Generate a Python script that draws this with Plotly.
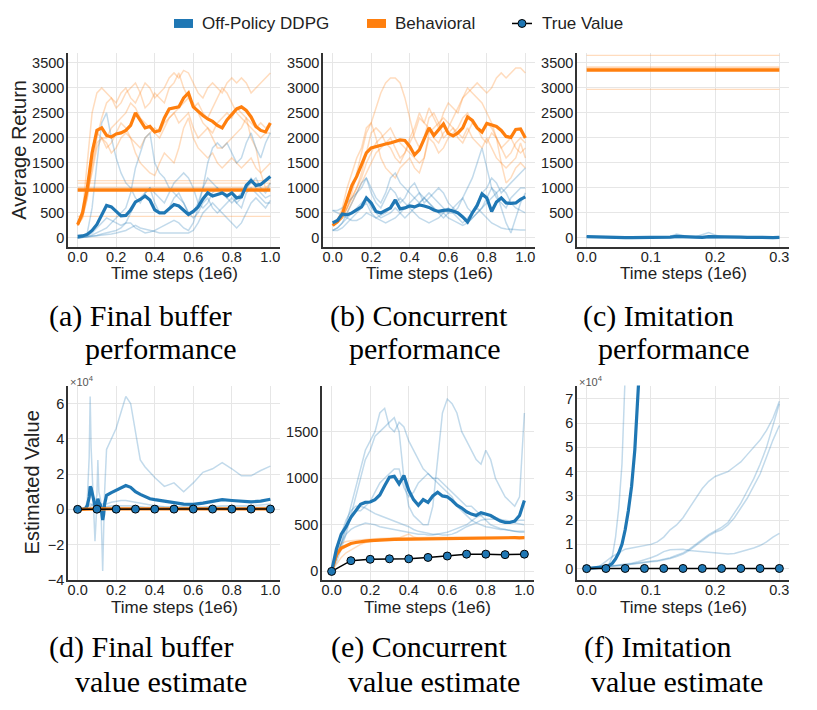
import plotly.graph_objects as go

# ---------------- data ----------------
steps = [0.0, 0.025, 0.05, 0.075, 0.1, 0.125, 0.15, 0.175, 0.2, 0.225, 0.25, 0.275, 0.3, 0.325,
         0.35, 0.375, 0.4, 0.425, 0.45, 0.475, 0.5, 0.525, 0.55, 0.575, 0.6, 0.625, 0.65, 0.675,
         0.7, 0.725, 0.75, 0.775, 0.8, 0.825, 0.85, 0.875, 0.9, 0.925, 0.95, 0.975, 1.0]
steps_short = [0.0, 0.01, 0.02, 0.03, 0.04, 0.05, 0.06, 0.07, 0.08, 0.09, 0.1, 0.11, 0.12, 0.13,
               0.14, 0.15, 0.16, 0.17, 0.18, 0.19, 0.2, 0.21, 0.22, 0.23, 0.24, 0.25, 0.26, 0.27,
               0.28, 0.29, 0.3]
eval_steps = [0.0, 0.1, 0.2, 0.3, 0.4, 0.5, 0.6, 0.7, 0.8, 0.9, 1.0]
eval_steps_short = [0.0, 0.03, 0.06, 0.09, 0.12, 0.15, 0.18, 0.21, 0.24, 0.27, 0.3]

# (a) final buffer performance
a_ddpg_mean = [30, 40, 70, 150, 270, 450, 650, 620, 520, 440, 450, 560, 720, 770, 840, 760, 560, 500,
               500, 580, 670, 640, 550, 470, 530, 620, 780, 900, 840, 870, 900, 840, 900, 800, 820,
               1050, 1150, 1050, 1070, 1150, 1230]
a_ddpg_seeds = [
    [0, 20, 100, 600, 1500, 2300, 2500, 2000, 1600, 1300, 1100, 1000, 800, 700, 900, 1000, 700, 500,
     500, 600, 800, 900, 700, 500, 500, 700, 1000, 1200, 1100, 1000, 900, 800, 900, 700, 800, 1000,
     1200, 1000, 900, 800, 850],
    [0, 10, 30, 60, 100, 150, 200, 300, 400, 500, 600, 900, 1400, 1700, 2000, 2100, 1500, 1300, 1200,
     1000, 900, 800, 700, 500, 400, 500, 700, 800, 600, 500, 600, 700, 800, 700, 600, 900, 1000, 900,
     800, 700, 700],
    [0, 10, 20, 30, 50, 80, 100, 120, 150, 200, 300, 300, 200, 150, 100, 120, 150, 200, 250, 300, 350,
     300, 200, 150, 300, 600, 1000, 1500, 1800, 1900, 1800, 1900, 1700, 1500, 1600, 1900, 2100, 1800,
     1600, 1900, 2100],
    [0, 20, 50, 100, 200, 300, 400, 350, 300, 250, 300, 500, 700, 800, 900, 1000, 900, 800, 700, 900,
     1100, 1200, 1300, 1200, 1000, 700, 600, 700, 900, 1000, 900, 800, 700, 800, 900, 1000, 1100, 1200,
     1000, 900, 1100],
    [0, 10, 20, 30, 40, 50, 60, 80, 100, 120, 150, 200, 250, 200, 180, 150, 130, 100, 100, 100, 100,
     100, 100, 100, 150, 300, 500, 600, 700, 600, 500, 400, 300, 200, 300, 500, 700, 800, 700, 600, 750],
]
a_behav_mean = [267, 500, 1000, 1700, 2150, 2200, 2050, 2020, 2080, 2100, 2150, 2250, 2500, 2350, 2200,
                2230, 2120, 2150, 2400, 2580, 2600, 2620, 2800, 2900, 2620, 2530, 2450, 2380, 2330, 2250,
                2200, 2360, 2480, 2580, 2620, 2550, 2420, 2230, 2150, 2120, 2300]
a_behav_seeds = [
    [250, 500, 1500, 2500, 2900, 3000, 2900, 2800, 2700, 2900, 3000, 2800, 2700, 2900, 3100, 3000, 2800,
     2900, 3000, 3200, 3300, 3200, 3350, 3300, 3100, 2900, 2800, 3000, 3100, 3000, 2900, 3100, 3200,
     3100, 3200, 3100, 2900, 3000, 3100, 3200, 3300],
    [250, 400, 800, 1500, 2000, 2400, 2700, 2800, 2600, 2700, 2900, 3000, 3100, 2900, 2600, 2700, 2900,
     2800, 2700, 3000, 3100, 3300, 3000, 2800, 2600, 2700, 2500, 2400, 2600, 2800, 3000, 2900, 2700,
     2500, 2400, 2300, 2200, 2100, 2000, 2100, 2100],
    [250, 400, 800, 1400, 1900, 2000, 1800, 1900, 2100, 2300, 2200, 2000, 1700, 1500, 1400, 1300, 1250,
     1500, 1700, 1600, 1500, 1800, 2200, 2400, 2000, 1800, 1700, 1600, 1700, 1500, 1400, 1500, 1600,
     1500, 1400, 1500, 1600, 1400, 1300, 1400, 1500],
    [250, 500, 900, 1300, 1800, 2000, 1900, 1700, 1800, 2000, 2100, 2000, 1900, 1800, 2000, 2100, 2200,
     2100, 2300, 2400, 2500, 2300, 2400, 2500, 2200, 2000, 2100, 2200, 2100, 2300, 2400, 2500, 2400,
     2600, 2500, 2400, 2000, 1800, 1300, 1000, 1100],
    [250, 450, 1000, 1800, 2100, 2000, 2000, 2200, 2300, 2400, 2500, 2700, 2600, 2400, 2300, 2200, 2100,
     2000, 2200, 2400, 2500, 2600, 2700, 2800, 2700, 2500, 2300, 2200, 2000, 1800, 1800, 1900, 2000,
     2100, 2200, 2400, 2300, 2200, 2300, 2200, 2300],
]
a_buffer_level_mean = 960
a_buffer_level_seeds = [1145, 1095, 1015, 430]

# (b) concurrent performance
b_ddpg_mean = [300, 350, 480, 460, 500, 560, 620, 800, 700, 530, 500, 550, 600, 760, 580, 600, 640, 620,
               660, 640, 610, 560, 530, 550, 560, 540, 500, 420, 320, 500, 650, 880, 800, 530, 720, 800,
               700, 690, 700, 770, 820]
b_ddpg_seeds = [
    [150, 200, 300, 500, 700, 900, 1100, 1200, 1000, 800, 700, 900, 1200, 1300, 1100, 1000, 900, 800, 700,
     800, 900, 800, 700, 600, 500, 500, 600, 800, 1000, 1200, 1500, 1800, 1400, 1000, 800, 700, 600, 800,
     900, 1000, 1000],
    [550, 550, 600, 700, 800, 900, 1000, 1200, 900, 700, 600, 800, 1000, 900, 700, 800, 1000, 1100, 900,
     700, 800, 900, 1000, 900, 700, 600, 700, 800, 600, 500, 700, 900, 1000, 1200, 1100, 900, 1000, 1100,
     1200, 1300, 1400],
    [150, 150, 200, 300, 400, 500, 600, 700, 500, 400, 450, 500, 600, 700, 800, 700, 600, 500, 400, 350,
     300, 350, 400, 500, 600, 500, 400, 300, 400, 500, 600, 500, 400, 300, 250, 200, 180, 170, 160, 160, 160],
    [550, 500, 450, 400, 350, 350, 400, 500, 450, 400, 350, 300, 350, 400, 500, 600, 700, 800, 900, 800,
     700, 600, 500, 500, 400, 350, 300, 250, 300, 400, 500, 600, 700, 800, 900, 1000, 900, 700, 600, 550, 500],
    [150, 200, 300, 400, 500, 600, 700, 800, 600, 500, 400, 450, 500, 600, 500, 400, 500, 600, 700, 800,
     700, 600, 500, 400, 500, 600, 500, 400, 300, 400, 500, 600, 800, 1000, 900, 600, 300, 100, 400, 700, 900],
]
b_behav_mean = [250, 330, 480, 750, 1050, 1230, 1450, 1700, 1800, 1830, 1850, 1880, 1900, 1930, 1960,
                1950, 1830, 1660, 1760, 1980, 2200, 2050, 2170, 2280, 2090, 2040, 2100, 2200, 2420, 2350,
                2200, 2120, 2290, 2260, 2230, 2150, 2030, 2010, 2170, 2180, 2000]
b_behav_seeds = [
    [250, 300, 400, 600, 900, 1300, 1700, 2100, 2300, 2600, 2900, 3100, 3200, 3200, 3100, 2800, 2400, 2000,
     1800, 2000, 2400, 2500, 2300, 2000, 2100, 2200, 2000, 1900, 2100, 2300, 2200, 2000, 1900, 2100, 2000,
     1800, 1600, 1700, 1900, 2000, 1900],
    [250, 300, 400, 500, 700, 900, 1100, 1300, 1500, 1700, 1800, 1900, 2000, 1800, 1600, 1700, 1900, 2100,
     2400, 2300, 2200, 2000, 1900, 2100, 2200, 2400, 2600, 2800, 2900, 3000, 3100, 3000, 2900, 3000, 3200,
     3300, 3200, 3300, 3400, 3400, 3300],
    [250, 300, 400, 600, 800, 1000, 1300, 1700, 2100, 2200, 2100, 1900, 1800, 1600, 1500, 1700, 2000, 2200,
     2500, 2300, 2600, 2400, 2200, 2500, 2700, 2600, 2500, 2800, 3000, 2900, 2800, 2700, 2500, 2300, 2000,
     1500, 1100, 1200, 1400, 1500, 1400],
    [250, 350, 600, 1000, 1300, 1600, 1800, 2200, 2300, 2000, 1600, 1400, 1300, 1200, 1400, 1500, 1600,
     1400, 1300, 1600, 2000, 1900, 1700, 1800, 2000, 2100, 2200, 2400, 2500, 2300, 2200, 2100, 2300, 2200,
     2000, 1800, 1900, 2000, 1800, 1700, 1800],
    [250, 300, 400, 600, 800, 1000, 1200, 1500, 1700, 1900, 2000, 2100, 2200, 2000, 1900, 1800, 1700, 1600,
     1500, 1600, 2100, 2200, 2300, 2400, 2300, 2200, 2100, 2000, 2200, 2000, 1900, 1800, 2000, 1800, 1600,
     1500, 1400, 1500, 1600, 1900, 1600],
]

# (c) imitation performance
c_ddpg_mean = [25, 20, 12, 8, 6, 5, 5, 5, 5, 5, 6, 8, 10, 15, 30, 25, 12, 6, 10, 25, 20, 15, 12, 12, 15,
               12, 8, 6, 6, 8, 10]
c_ddpg_seeds = [
    [30, 25, 15, 10, 8, 6, 5, 5, 5, 5, 5, 8, 12, 30, 80, 50, 15, 5, 8, 10, 10, 10, 10, 10, 12, 10, 8, 6,
     6, 8, 10],
    [20, 15, 10, 8, 6, 5, 5, 5, 5, 5, 6, 8, 10, 10, 10, 10, 12, 25, 70, 110, 60, 20, 12, 12, 15, 12, 8, 6,
     6, 8, 10],
    [25, 20, 12, 8, 5, 5, 5, 5, 5, 5, 6, 8, 10, 10, 15, 12, 10, 6, 10, 20, 20, 15, 12, 12, 15, 12, 8, 6,
     6, 8, 10],
]
c_expert_level_mean = 3360
c_expert_level_seeds = [3650, 3420, 3400, 2970]

# (d) final buffer value estimate (x 1e4)
d_steps = [0.0, 0.02, 0.04, 0.05, 0.06, 0.065, 0.07, 0.08, 0.09, 0.1, 0.105, 0.11, 0.12, 0.13, 0.135,
           0.14, 0.15, 0.175, 0.2, 0.225, 0.25, 0.275, 0.3, 0.325, 0.35, 0.375, 0.4, 0.45, 0.5, 0.55,
           0.6, 0.65, 0.7, 0.75, 0.8, 0.85, 0.9, 0.95, 1.0]
d_ddpg_mean = [0, 0, 0.05, 0.2, 0.7, 1.3, 1.2, 0.6, 0.2, 0.3, 0.6, 0.4, 0.2, -0.6, -0.3, 0.3, 0.8, 0.95,
               1.1, 1.25, 1.35, 1.25, 1.0, 0.85, 0.7, 0.6, 0.55, 0.45, 0.38, 0.3, 0.28, 0.35, 0.47, 0.55,
               0.5, 0.45, 0.42, 0.47, 0.57]
d_ddpg_seeds = [
    [0, 0, 0.1, 0.5, 3.0, 6.4, 3.5, 1.0, -1.8, 0.3, 0.2, 0.2, 0.1, 0.1, 0.1, 0.1, 0.1, 0.1, 0.1, 0.1,
     0.1, 0.1, 0.1, 0.1, 0.1, 0.1, 0.1, 0.1, 0.1, 0.1, 0.1, 0.1, 0.1, 0.1, 0.1, 0.1, 0.1, 0.1, 0.1],
    [0, 0, 0, 0, 0, 0, 0, 0.1, 0.3, 0.8, 2.8, 1.0, 0.5, -3.5, -1.0, 1.0, 3.4, 4.0, 4.6, 5.5, 6.4, 6.0,
     4.4, 2.8, 2.4, 2.1, 1.8, 1.3, 1.5, 1.0, 1.5, 2.1, 2.3, 2.65, 2.3, 1.9, 1.9, 2.2, 2.45],
    [0, 0, 0, 0, 0, 0.1, 0.2, 0.3, 0.2, 0.1, 0.1, 0.2, 0.3, 0.3, 0.3, 0.3, 0.3, 0.4, 0.45, 0.5, 0.5,
     0.45, 0.4, 0.35, 0.3, 0.25, 0.2, 0.15, 0.12, 0.1, 0.1, 0.1, 0.15, 0.2, 0.2, 0.2, 0.2, 0.25, 0.3],
    [0, 0, 0.05, 0.1, 0.2, 0.3, 0.3, 0.2, 0.1, 0.1, 0.1, 0.1, 0.1, 0.1, 0.1, 0.1, 0.15, 0.2, 0.2, 0.2,
     0.2, 0.2, 0.15, 0.15, 0.1, 0.1, 0.1, 0.1, 0.1, 0.1, 0.1, 0.1, 0.1, 0.1, 0.1, 0.1, 0.1, 0.1, 0.1],
]
d_behav_mean = [0, 0.015, 0.02, 0.025, 0.028, 0.03, 0.03, 0.03, 0.03, 0.03, 0.03, 0.03, 0.03, 0.03,
                0.03, 0.03, 0.03, 0.03, 0.03, 0.03, 0.03, 0.03, 0.03, 0.03, 0.03, 0.03, 0.03, 0.03,
                0.03, 0.03, 0.03, 0.03, 0.03, 0.03, 0.03, 0.03, 0.03, 0.03, 0.03, 0.03, 0.03]
d_true_value = [0, 0.01, 0.012, 0.013, 0.013, 0.014, 0.015, 0.016, 0.016, 0.016, 0.016]

# (e) concurrent value estimate
e_ddpg_mean = [5, 240, 400, 480, 580, 650, 720, 740, 745, 770, 820, 920, 1010, 1020, 940, 1030, 870, 770,
               710, 770, 740, 810, 850, 810, 800, 760, 710, 680, 640, 615, 600, 630, 615, 600, 570, 540,
               525, 525, 540, 600, 760]
e_ddpg_seeds = [
    [0, 150, 300, 500, 700, 900, 1100, 1300, 1400, 1500, 1700, 1750, 1550, 1500, 1600, 1550, 1400, 1300,
     1200, 1100, 1050, 1000, 1000, 950, 900, 850, 800, 750, 700, 700, 650, 600, 550, 500, 480, 460, 450,
     440, 430, 420, 420],
    [0, 100, 250, 400, 600, 800, 1000, 1200, 1300, 1450, 1500, 1550, 1600, 1650, 1500, 1000, 700, 600, 550,
     500, 500, 700, 1200, 1700, 1850, 1800, 1700, 1500, 1400, 1300, 1200, 1150, 1300, 1200, 1000, 900, 800,
     750, 700, 800, 1700],
    [0, 150, 300, 450, 600, 650, 650, 700, 750, 850, 950, 1000, 1050, 1100, 1100, 900, 800, 850, 950, 1000,
     1050, 1000, 950, 900, 850, 800, 700, 650, 600, 550, 520, 500, 480, 470, 460, 450, 450, 440, 430, 430, 430],
    [0, 200, 400, 550, 650, 700, 700, 680, 650, 620, 600, 580, 560, 540, 520, 500, 480, 450, 430, 420, 410,
     400, 400, 390, 390, 400, 420, 450, 480, 500, 520, 550, 560, 560, 560, 550, 550, 540, 540, 550, 550],
    [0, 150, 300, 400, 450, 480, 500, 520, 510, 500, 480, 470, 460, 450, 440, 430, 420, 410, 400, 400, 390,
     390, 400, 410, 420, 440, 460, 480, 500, 540, 580, 600, 620, 600, 580, 560, 540, 530, 520, 510, 500],
]
e_behav_mean = [0, 180, 250, 280, 300, 310, 320, 325, 330, 335, 338, 340, 342, 344, 345, 346, 348, 350,
                350, 352, 352, 353, 354, 355, 356, 357, 358, 358, 360, 360, 360, 360, 360, 362, 362, 362,
                362, 362, 362, 360, 362]
e_behav_seeds = [
    [0, 80, 150, 200, 230, 260, 290, 310, 320, 330, 335, 340, 340, 345, 345, 350, 350, 350, 352, 352, 355,
     355, 355, 356, 356, 358, 358, 360, 360, 360, 360, 362, 362, 362, 362, 362, 362, 362, 362, 362, 362],
    [0, 220, 300, 320, 330, 335, 340, 345, 350, 350, 352, 355, 355, 356, 358, 360, 360, 362, 362, 364, 365,
     365, 366, 366, 367, 368, 368, 370, 370, 370, 370, 372, 372, 372, 372, 372, 372, 372, 372, 372, 372],
    [0, 150, 230, 270, 300, 310, 320, 330, 335, 340, 345, 350, 350, 355, 360, 380, 400, 370, 355, 355, 356,
     356, 357, 357, 358, 358, 358, 358, 360, 360, 360, 360, 360, 360, 360, 360, 360, 360, 360, 360, 360],
]
e_true_value = [0, 115, 130, 135, 135, 150, 165, 185, 185, 180, 185]

# (f) imitation value estimate (x 1e4)
f_mean_steps = [0.0, 0.01, 0.02, 0.03, 0.035, 0.04, 0.045, 0.05, 0.055, 0.06, 0.065, 0.07, 0.075, 0.08, 0.085]
f_ddpg_mean = [0.0, 0.02, 0.05, 0.08, 0.13, 0.22, 0.4, 0.65, 1.0, 1.6, 2.4, 3.4, 4.9, 7.0, 9.6]
f_fast_steps = [0.0, 0.01, 0.02, 0.03, 0.035, 0.04, 0.045, 0.05, 0.055, 0.06, 0.065]
f_fast_seed = [0.0, 0.02, 0.05, 0.1, 0.2, 0.5, 1.3, 2.5, 4.3, 8.0, 12.0]
f_ddpg_seeds = [
    [0, 0.05, 0.1, 0.3, 0.5, 0.65, 0.8, 0.85, 0.9, 0.95, 1.0, 1.1, 1.3, 1.6, 1.8, 2.1, 2.5, 2.9, 3.3, 3.6,
     3.8, 3.9, 4.0, 4.2, 4.4, 4.7, 5.0, 5.3, 5.7, 6.2, 6.9],
    [0, 0.02, 0.05, 0.08, 0.12, 0.15, 0.18, 0.22, 0.28, 0.35, 0.45, 0.55, 0.7, 0.78, 0.8, 0.8, 0.75, 0.72,
     0.7, 0.68, 0.66, 0.63, 0.6, 0.62, 0.7, 0.75, 0.85, 0.95, 1.1, 1.3, 1.45],
    [0, 0.02, 0.04, 0.07, 0.1, 0.13, 0.16, 0.2, 0.25, 0.28, 0.3, 0.33, 0.38, 0.45, 0.55, 0.65, 0.8, 1.0,
     1.2, 1.4, 1.55, 1.7, 1.9, 2.3, 2.7, 3.2, 3.7, 4.3, 5.0, 5.9, 6.8],
    [0, 0.02, 0.04, 0.06, 0.09, 0.12, 0.15, 0.18, 0.22, 0.25, 0.28, 0.3, 0.35, 0.42, 0.5, 0.6, 0.75, 0.95,
     1.15, 1.35, 1.5, 1.6, 1.8, 2.1, 2.5, 2.9, 3.4, 3.9, 4.6, 5.3, 5.9],
]
f_true_value = [0, 0.005, 0.006, 0.006, 0.006, 0.006, 0.006, 0.006, 0.006, 0.006, 0.006]

legend_labels = ["Off-Policy DDPG", "Behavioral", "True Value"]
captions = [
    ("(a) Final buffer", "performance"), ("(b) Concurrent", "performance"),
    ("(c) Imitation", "performance"), ("(d) Final buffer", "value estimate"),
    ("(e) Concurrent", "value estimate"), ("(f) Imitation", "value estimate"),
]

# ---------------- style ----------------
W, H = 817, 710
VSCALE = 0.99          # measured vertical compression of the rendered page
BLUE = '#1f77b4'
ORANGE = '#ff7f0e'
BLUE_F = 'rgba(31,119,180,0.27)'
ORANGE_F = 'rgba(255,127,14,0.27)'
SANS = 'Liberation Sans'
SERIF = 'Liberation Serif'
TXT = '#222222'


def px(x):
    return x / W


def py(y):
    return 1 - (y / VSCALE) / H


fig = go.Figure()


def add_line(xs, ys, ax, color, width):
    fig.add_trace(go.Scatter(x=xs, y=ys, mode='lines', line=dict(color=color, width=width),
                             xaxis='x' + ax, yaxis='y' + ax, showlegend=False, hoverinfo='skip'))


def add_level(value, xs, ax, color, width):
    fig.add_trace(go.Scatter(x=[xs[0], xs[-1]], y=[value, value], mode='lines',
                             line=dict(color=color, width=width),
                             xaxis='x' + ax, yaxis='y' + ax, showlegend=False, hoverinfo='skip'))


def add_true(xs, ys, ax):
    fig.add_trace(go.Scatter(x=xs, y=ys, mode='lines+markers', line=dict(color='black', width=1.5),
                             marker=dict(size=8, color=BLUE, line=dict(color='black', width=1)),
                             xaxis='x' + ax, yaxis='y' + ax, showlegend=False, hoverinfo='skip'))


# (a)
for s in a_behav_seeds:
    add_line(steps, s, '', ORANGE_F, 1.5)
for v in a_buffer_level_seeds:
    add_level(v, steps, '', ORANGE_F, 1.3)
for s in a_ddpg_seeds:
    add_line(steps, s, '', BLUE_F, 1.5)
add_level(a_buffer_level_mean, steps, '', ORANGE, 3.5)
add_line(steps, a_behav_mean, '', ORANGE, 3.2)
add_line(steps, a_ddpg_mean, '', BLUE, 3.2)

# (b)
for s in b_behav_seeds:
    add_line(steps, s, '2', ORANGE_F, 1.5)
for s in b_ddpg_seeds:
    add_line(steps, s, '2', BLUE_F, 1.5)
add_line(steps, b_behav_mean, '2', ORANGE, 3.2)
add_line(steps, b_ddpg_mean, '2', BLUE, 3.2)

# (c)
for v in c_expert_level_seeds:
    add_level(v, steps_short, '3', ORANGE_F, 1.3)
for s in c_ddpg_seeds:
    add_line(steps_short, s, '3', BLUE_F, 1.5)
add_level(c_expert_level_mean, steps_short, '3', ORANGE, 3.5)
add_line(steps_short, c_ddpg_mean, '3', BLUE, 3.2)

# (d)
for s in d_ddpg_seeds:
    add_line(d_steps, s, '4', BLUE_F, 1.5)
add_line(d_steps, d_ddpg_mean, '4', BLUE, 3.2)
add_line(steps, d_behav_mean, '4', ORANGE, 3.2)
add_true(eval_steps, d_true_value, '4')

# (e)
for s in e_behav_seeds:
    add_line(steps, s, '5', ORANGE_F, 1.5)
for s in e_ddpg_seeds:
    add_line(steps, s, '5', BLUE_F, 1.5)
add_line(steps, e_behav_mean, '5', ORANGE, 3.2)
add_line(steps, e_ddpg_mean, '5', BLUE, 3.2)
add_true(eval_steps, e_true_value, '5')

# (f)
add_line(f_fast_steps, f_fast_seed, '6', BLUE_F, 1.5)
for s in f_ddpg_seeds:
    add_line(steps_short, s, '6', BLUE_F, 1.5)
add_line(f_mean_steps, f_ddpg_mean, '6', BLUE, 3.2)
add_true(eval_steps_short, f_true_value, '6')

# ---------------- axes ----------------
common = dict(showgrid=True, gridcolor='#e6e6e6', gridwidth=1, showline=True, linecolor='#333333',
              linewidth=1.5, zeroline=False, ticks='', ticklen=0,
              tickfont=dict(family=SANS, size=14.5, color=TXT))

panels = [
    # ax, x px domain, y px domain, xrange, xticks, yrange, yticks
    ('', (68, 280), (53, 247), [-0.05, 1.05], [0, 0.2, 0.4, 0.6, 0.8, 1.0], [-175, 3700],
     [0, 500, 1000, 1500, 2000, 2500, 3000, 3500]),
    ('2', (323, 535), (53, 247), [-0.05, 1.05], [0, 0.2, 0.4, 0.6, 0.8, 1.0], [-175, 3700],
     [0, 500, 1000, 1500, 2000, 2500, 3000, 3500]),
    ('3', (577, 789), (53, 247), [-0.015, 0.315], [0, 0.1, 0.2, 0.3], [-175, 3700],
     [0, 500, 1000, 1500, 2000, 2500, 3000, 3500]),
    ('4', (68, 280), (386, 581), [-0.05, 1.05], [0, 0.2, 0.4, 0.6, 0.8, 1.0], [-4.02, 7.02],
     [-4, -2, 0, 2, 4, 6]),
    ('5', (322, 534), (386, 581), [-0.05, 1.05], [0, 0.2, 0.4, 0.6, 0.8, 1.0], [-95, 1995],
     [0, 500, 1000, 1500]),
    ('6', (577, 789), (386, 581), [-0.015, 0.315], [0, 0.1, 0.2, 0.3], [-0.48, 7.55],
     [0, 1, 2, 3, 4, 5, 6, 7]),
]
layout_axes = {}
for ax, (x0, x1), (y0, y1), xr, xt, yr, yt in panels:
    layout_axes['xaxis' + ax] = dict(common, domain=[px(x0), px(x1)], anchor='y' + ax, range=xr,
                                     tickvals=xt, tickformat='.1f', ticklabelstandoff=-4)
    layout_axes['yaxis' + ax] = dict(common, domain=[py(y1), py(y0)], anchor='x' + ax, range=yr,
                                     tickvals=yt, ticklabelstandoff=-1)

annotations = []
shapes = []

# axis titles
for (cx, cy) in [(174, 274), (429, 274), (683, 274), (174, 608), (428, 608), (683, 608)]:
    annotations.append(dict(text='Time steps (1e6)', x=px(cx), y=py(cy), xref='paper', yref='paper',
                            xanchor='center', yanchor='middle', showarrow=False,
                            font=dict(family=SANS, size=17, color=TXT)))
annotations.append(dict(text='Average Return', x=px(19), y=py(150), xref='paper', yref='paper',
                        xanchor='center', yanchor='middle', showarrow=False, textangle=-90,
                        font=dict(family=SANS, size=20, color=TXT)))
annotations.append(dict(text='Estimated Value', x=px(32), y=py(483), xref='paper', yref='paper',
                        xanchor='center', yanchor='middle', showarrow=False, textangle=-90,
                        font=dict(family=SANS, size=20, color=TXT)))
# offset labels
for lx in [68, 577]:
    annotations.append(dict(text='×10<sup>4</sup>', x=px(lx), y=py(381), xref='paper', yref='paper',
                            xanchor='left', yanchor='middle', showarrow=False,
                            font=dict(family=SANS, size=11, color='#555555')))

# captions
cap_pos = [((47, 316), (83, 349)), ((328, 316), (347, 349)), ((581, 316), (596, 349)),
           ((47, 648), (73, 682)), ((329, 648), (346, 682)), ((582, 648), (589, 682))]
for (l1, l2), ((x1, y1), (x2, y2)) in zip(captions, cap_pos):
    for t, xx, yy in [(l1, x1, y1), (l2, x2, y2)]:
        annotations.append(dict(text=t, x=px(xx), y=py(yy), xref='paper', yref='paper',
                                xanchor='left', yanchor='middle', showarrow=False,
                                font=dict(family=SERIF, size=30, color='black')))

# legend (drawn manually)
shapes.append(dict(type='rect', xref='paper', yref='paper', x0=px(174), x1=px(193), y0=py(28), y1=py(19),
                   fillcolor=BLUE, line=dict(width=0)))
shapes.append(dict(type='rect', xref='paper', yref='paper', x0=px(367), x1=px(386), y0=py(28), y1=py(19),
                   fillcolor=ORANGE, line=dict(width=0)))
shapes.append(dict(type='line', xref='paper', yref='paper', x0=px(512), x1=px(532), y0=py(23.5), y1=py(23.5),
                   line=dict(color='black', width=1.5)))
shapes.append(dict(type='circle', xref='paper', yref='paper', x0=px(518), x1=px(526), y0=py(27.5), y1=py(19.5),
                   fillcolor=BLUE, line=dict(color='black', width=1)))
for t, lx in zip(legend_labels, [200, 393, 540]):
    annotations.append(dict(text=t, x=px(lx), y=py(23.5), xref='paper', yref='paper',
                            xanchor='left', yanchor='middle', showarrow=False,
                            font=dict(family=SANS, size=17, color=TXT)))

fig.update_layout(width=W, height=H, margin=dict(l=0, r=0, t=0, b=0), paper_bgcolor='white',
                  plot_bgcolor='white', showlegend=False, annotations=annotations, shapes=shapes,
                  **layout_axes)

fig.write_html("out.html", config={'displayModeBar': False},
               post_script="document.body.style.margin='0';document.body.style.overflow='hidden';")
